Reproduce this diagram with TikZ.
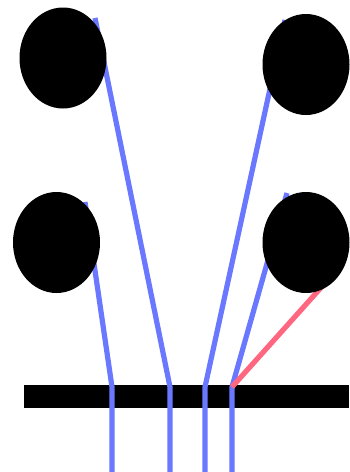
\documentclass[tikz,border=0pt]{standalone}
\usetikzlibrary{shapes.geometric}
\definecolor{wireblue}{HTML}{6A78FF}
\definecolor{wirered}{HTML}{FF6680}
\begin{document}
\begin{tikzpicture}[
  x=1pt, y=-1pt,
  blob/.style={ellipse, fill=black, minimum width=87pt, minimum height=101pt, inner sep=0pt},
  bar/.style={rectangle, fill=black, minimum width=325pt, minimum height=23pt, inner sep=0pt},
  wire/.style={draw=wireblue, line width=5.2pt},
  redwire/.style={draw=wirered, line width=5.2pt}
]
  \useasboundingbox (0,0) rectangle (349,472);

  \node[bar] (bar) at (186.5,396.5) {};

  \coordinate (t1) at (95,18);
  \coordinate (t2) at (85,202);
  \coordinate (t3) at (285,20);
  \coordinate (t4) at (287,193);
  \coordinate (tr) at (335,272);
  \coordinate (k1) at (170,387);
  \coordinate (k2) at (112,387);
  \coordinate (k3) at (205,387);
  \coordinate (k4) at (232,387);
  \coordinate (e1) at (170,472);
  \coordinate (e2) at (112,472);
  \coordinate (e3) at (205,472);
  \coordinate (e4) at (232,472);

  \draw[wire] (t1) -- (k1) -- (e1);
  \draw[wire] (t2) -- (k2) -- (e2);
  \draw[wire] (t3) -- (k3) -- (e3);
  \draw[wire] (t4) -- (k4) -- (e4);
  \draw[redwire] (tr) -- (k4);

  \node[blob] (tl) at (63,58) {};
  \node[blob] (tr1) at (306,64.5) {};
  \node[blob] (ml) at (56.5,242.5) {};
  \node[blob] (mr) at (306,242.5) {};
\end{tikzpicture}
\end{document}
